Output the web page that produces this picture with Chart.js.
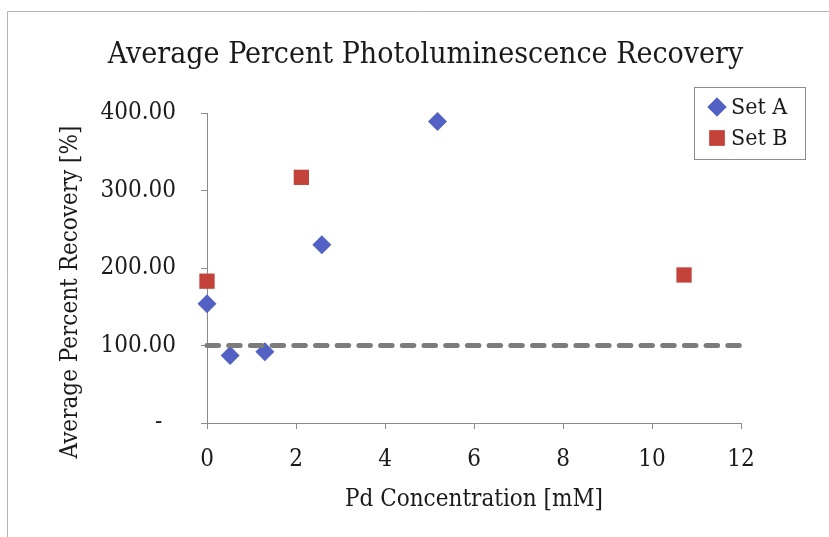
<!DOCTYPE html>
<html>
<head>
<meta charset="utf-8">
<script src="https://cdn.jsdelivr.net/npm/chart.js@4.4.1/dist/chart.umd.min.js"></script>
<style>
  html, body { margin: 0; padding: 0; background: #fff; }
  canvas { display: block; }
</style>
</head>
<body>
<canvas id="chart" width="829" height="537"></canvas>
<script>
// Values
const concA = [0, 0.52, 1.3, 2.58, 5.18];
const recoveryA = [154, 87, 92, 230, 389];
const concB = [0, 2.12, 10.72];
const recoveryB = [183, 317, 191];
const baselineConc = [0, 12];
const baselineRecovery = [100, 100];

const SERIF = "'DejaVu Serif Condensed', 'DejaVu Serif', serif";
const AXIS_GREY = '#8a8a8a';

const toPoints = (xs, ys) => xs.map((x, i) => ({ x: x, y: ys[i] }));

// white page plus the scanned frame lines at top / left
const framePlugin = {
  id: 'frame',
  beforeDraw(chart) {
    const ctx = chart.ctx;
    ctx.save();
    ctx.fillStyle = '#fff';
    ctx.fillRect(0, 0, chart.width, chart.height);
    ctx.strokeStyle = '#b4b4b4';
    ctx.lineWidth = 1;
    ctx.beginPath();
    ctx.moveTo(7.5, chart.height);
    ctx.lineTo(7.5, 11.5);
    ctx.lineTo(chart.width, 11.5);
    ctx.stroke();
    ctx.restore();
  }
};

// boxed legend that overlaps the top-right corner of the plot
const boxLegend = {
  id: 'boxLegend',
  afterDraw(chart) {
    const ctx = chart.ctx;
    const area = chart.chartArea;
    const left = area.right - 47, top = area.top - 26;
    const w = 111, h = 72;
    ctx.save();
    ctx.strokeStyle = '#8c8c8c';
    ctx.lineWidth = 1;
    ctx.strokeRect(left + 0.5, top + 0.5, w, h);
    ctx.font = '23px ' + SERIF;
    ctx.textBaseline = 'middle';
    const items = chart.data.datasets.filter(d => d.inLegend);
    items.forEach((ds, i) => {
      const cy = top + 20 + i * 31;
      ctx.fillStyle = ds.backgroundColor;
      Chart.helpers.drawPoint(ctx, {
        pointStyle: ds.pointStyle, radius: ds.pointRadius, rotation: 0, borderWidth: 0
      }, left + 23, cy);
      ctx.fill();
      ctx.fillStyle = '#1a1a1a';
      ctx.fillText(ds.label, left + 37, cy + 1);
    });
    ctx.restore();
  }
};

new Chart(document.getElementById('chart'), {
  type: 'scatter',
  data: {
    datasets: [
      {
        label: 'baseline',
        type: 'line',
        data: toPoints(baselineConc, baselineRecovery),
        borderColor: '#7c7c7c',
        borderWidth: 5,
        borderDash: [11.5, 10.2],
        borderCapStyle: 'round',
        pointRadius: 0,
        fill: false,
        clip: false
      },
      {
        label: 'Set A',
        inLegend: true,
        data: toPoints(concA, recoveryA),
        pointStyle: 'rectRot',
        pointRadius: 9.5,
        backgroundColor: '#5361c4',
        borderColor: '#5361c4',
        borderWidth: 0,
        clip: false
      },
      {
        label: 'Set B',
        inLegend: true,
        data: toPoints(concB, recoveryB),
        pointStyle: 'rect',
        pointRadius: 10.8,
        backgroundColor: '#c3423a',
        borderColor: '#c3423a',
        borderWidth: 0,
        clip: false
      }
    ]
  },
  options: {
    responsive: false,
    animation: false,
    events: [],
    layout: { padding: { left: 22, right: 0, top: 0, bottom: 0 } },
    plugins: {
      legend: { display: false },
      tooltip: { enabled: false },
      title: {
        display: true,
        text: 'Average Percent Photoluminescence Recovery',
        color: '#1a1a1a',
        font: { family: SERIF, size: 30, weight: 'normal' },
        padding: { top: 37.5, bottom: 39.5 }
      }
    },
    scales: {
      x: {
        type: 'linear',
        min: 0,
        max: 12,
        afterFit(scale) { scale.height = 114; },
        border: { display: true, color: AXIS_GREY, width: 1 },
        grid: { drawOnChartArea: false, drawTicks: true, tickLength: 6, color: AXIS_GREY },
        ticks: {
          stepSize: 2,
          padding: 16,
          color: '#1a1a1a',
          font: { family: SERIF, size: 24 }
        },
        title: {
          display: true,
          text: 'Pd Concentration [mM]',
          color: '#1a1a1a',
          font: { family: SERIF, size: 24 },
          padding: { top: 0, bottom: 22.6 }
        }
      },
      y: {
        min: 0,
        max: 400,
        afterFit(scale) { scale.width = 185; },
        border: { display: true, color: AXIS_GREY, width: 1 },
        grid: { drawOnChartArea: false, drawTicks: true, tickLength: 6, color: AXIS_GREY },
        ticks: {
          stepSize: 100,
          padding: 25,
          color: '#1a1a1a',
          font: { family: SERIF, size: 24 },
          callback: v => (v === 0 ? '-  ' : v.toFixed(2))
        },
        title: {
          display: true,
          // trailing spaces push the centred title down, as in the original
          text: 'Average Percent Recovery [%]       ',
          color: '#1a1a1a',
          font: { family: SERIF, size: 24 },
          padding: { top: 34.6, bottom: 0 }
        }
      },
      // empty axis that just reserves the blank strip right of the plot
      gutter: {
        type: 'linear',
        position: 'right',
        afterFit(scale) { scale.width = 88; },
        border: { display: false },
        grid: { display: false },
        ticks: { display: false }
      }
    }
  },
  plugins: [framePlugin, boxLegend]
});
</script>
</body>
</html>
